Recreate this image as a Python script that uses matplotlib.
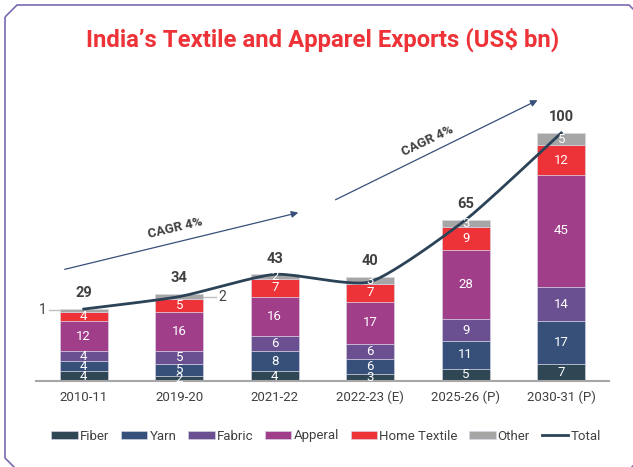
import numpy as np
import matplotlib.pyplot as plt
from matplotlib.patches import Polygon, FancyArrowPatch

plt.rcParams['font.family'] = ['Roboto', 'DejaVu Sans']

years = ['2010-11', '2019-20', '2021-22', '2022-23 (E)', '2025-26 (P)', '2030-31 (P)']
fiber = [4, 2, 4, 3, 5, 7]
yarn = [4, 5, 8, 6, 11, 17]
fabric = [4, 5, 6, 6, 9, 14]
apparel = [12, 16, 16, 17, 28, 45]
home = [4, 5, 7, 7, 9, 12]
other = [1, 2, 2, 3, 3, 5]
total = [29, 34, 43, 40, 65, 100]

series = [('Fiber', fiber, '#2f4655'), ('Yarn', yarn, '#36507a'),
          ('Fabric', fabric, '#6a5091'), ('Apperal', apparel, '#a03e8a'),
          ('Home Textile', home, '#ee3338'), ('Other', other, '#a6a6a6')]

W, H = 633, 467
fig = plt.figure(figsize=(W / 100, H / 100), dpi=100)

# chamfered frame
c = 12
pts = [(5, 5 + c), (5 + c, 5), (629, 5), (629 + c, 5 + c), (629 + c, 458),
       (629, 458 + c), (5 + c, 458 + c), (5, 458)]
fig.patches.append(Polygon([(x / W, 1 - y / H) for x, y in pts], closed=True,
                           fill=False, edgecolor='#7b68b0', lw=1.2,
                           transform=fig.transFigure))

fig.text(0.51, 1 - 40 / H, 'India\u2019s Textile and Apparel Exports (US$ bn)',
         ha='center', va='center', color='#ee3338', fontsize=17.2,
         fontweight='bold', stretch='condensed')

ax = fig.add_axes([36 / W, 1 - 381 / H, 573 / W, 291 / H])
x = np.arange(len(years))
bottom = np.zeros(len(years))
for name, vals, col in series:
    vals = np.array(vals, dtype=float)
    ax.bar(x, vals, 0.5, bottom=bottom, color=col, label=name,
           edgecolor='#d9d9e8', linewidth=0.4)
    for i, v in enumerate(vals):
        if name == 'Other' and i < 2:
            continue
        ax.text(x[i], bottom[i] + v / 2, f'{int(v)}', ha='center', va='center',
                color='white', fontsize=9.5)
    bottom += vals

# callouts for small "Other" values
ax.plot([-0.36, -0.25], [bottom[0] - 0.5, bottom[0] - 0.5], color='#bfbfbf', lw=1)
ax.text(-0.39, bottom[0] - 0.5, '1', ha='right', va='center', fontsize=10, color='#404040')
ax.plot([1.25, 1.38], [bottom[1] - 1, bottom[1] - 1], color='#bfbfbf', lw=1)
ax.text(1.41, bottom[1] - 1, '2', ha='left', va='center', fontsize=10, color='#404040')

# totals labels
for i, t in enumerate(total):
    ax.text(x[i], bottom[i] + 3.5, f'{t}', ha='center', va='bottom',
            fontsize=10.5, fontweight='bold', color='#404040')


# smoothed total line
def smooth(xs, ys, k=10, n=30):
    px = np.concatenate([[xs[0]], xs, [xs[-1]]])
    py = np.concatenate([[ys[0]], ys, [ys[-1]]])
    ox, oy = [], []
    for j in range(1, len(px) - 2):
        p0, p1, p2, p3 = [np.array([px[m], py[m]]) for m in range(j - 1, j + 3)]
        c1 = p1 + (p2 - p0) / k
        c2 = p2 - (p3 - p1) / k
        t = np.linspace(0, 1, n)[:, None]
        b = (1 - t) ** 3 * p1 + 3 * (1 - t) ** 2 * t * c1 + 3 * (1 - t) * t ** 2 * c2 + t ** 3 * p2
        ox.extend(b[:, 0]); oy.extend(b[:, 1])
    return ox, oy


sx, sy = smooth(x.astype(float), np.array(total, dtype=float))
total_line, = ax.plot(sx, sy, color='#2b4257', lw=2, label='Total')

ax.set_xlim(-0.5, 5.5)
ax.set_ylim(0, 117.3)
ax.set_xticks(x, years)
ax.tick_params(axis='x', length=0, pad=7, labelsize=9.5, labelcolor='#404040')
ax.set_yticks([])
for s in ['top', 'right', 'left']:
    ax.spines[s].set_visible(False)
ax.spines['bottom'].set_color('#a6a6a6')
ax.spines['bottom'].set_linewidth(1.5)


# CAGR arrows (figure pixel coords)
def fpt(px, py):
    return (px / W, 1 - py / H)


for (a, b, tx, rot) in [((62, 270), (301, 212), (175, 228), 13.5),
                        ((333, 201), (540, 99), (428, 141), 25.5)]:
    fig.patches.append(FancyArrowPatch(fpt(*a), fpt(*b), transform=fig.transFigure,
                                       arrowstyle='-|>', mutation_scale=10,
                                       color='#36507a', lw=0.9))
    fig.text(*fpt(*tx), 'CAGR 4%', ha='center', va='center', rotation=rot,
             fontsize=9.5, fontweight='bold', color='#404040')

handles, labels = ax.get_legend_handles_labels()
order = [labels.index(n) for n, _, _ in series] + [labels.index('Total')]
fig.legend([handles[i] for i in order], [labels[i] for i in order],
           loc='center', bbox_to_anchor=(0.515, 1 - 436 / H),
           ncol=7, frameon=False, fontsize=9.5, handlelength=2.0, handleheight=0.6,
           handletextpad=0.15, columnspacing=0.9, labelcolor='#404040')

fig.savefig('out.png', dpi=100)
